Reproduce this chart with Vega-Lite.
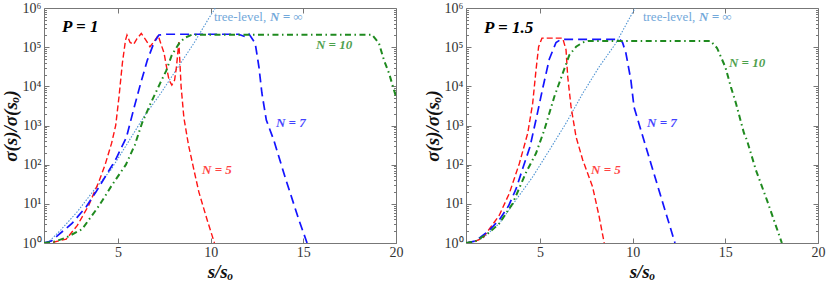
{
  "$schema": "https://vega.github.io/schema/vega-lite/v6.json",
  "background": "white",
  "padding": {"left": 0, "top": 0, "right": 0, "bottom": 0},
  "spacing": 70,
  "bounds": "flush",
  "datasets": {
    "curves": [
      {"panel":"A","series":"tree","x":1,"y":1},{"panel":"A","series":"tree","x":1.3,"y":1.122},{"panel":"A","series":"tree","x":1.9,"y":2.138},{"panel":"A","series":"tree","x":2.8,"y":6.31},{"panel":"A","series":"tree","x":3.7,"y":22.39},{"panel":"A","series":"tree","x":4.6,"y":72.44},{"panel":"A","series":"tree","x":5.5,"y":346.7},{"panel":"A","series":"tree","x":6.4,"y":1698},{"panel":"A","series":"tree","x":7.3,"y":6607},{"panel":"A","series":"tree","x":8.19,"y":28840},{"panel":"A","series":"tree","x":9.09,"y":125893},{"panel":"A","series":"tree","x":9.9,"y":549541},{"panel":"A","series":"tree","x":10.25,"y":1000000},
      {"panel":"A","series":"n5","x":1,"y":1},{"panel":"A","series":"n5","x":1.5,"y":1.047},{"panel":"A","series":"n5","x":2.2,"y":1.259},{"panel":"A","series":"n5","x":2.8,"y":2.818},{"panel":"A","series":"n5","x":3.4,"y":8.913},{"panel":"A","series":"n5","x":3.95,"y":35.48},{"panel":"A","series":"n5","x":4.3,"y":100},{"panel":"A","series":"n5","x":4.65,"y":354.8},{"panel":"A","series":"n5","x":4.87,"y":1000},{"panel":"A","series":"n5","x":5.05,"y":5495},{"panel":"A","series":"n5","x":5.23,"y":38905},{"panel":"A","series":"n5","x":5.4,"y":151356},{"panel":"A","series":"n5","x":5.48,"y":204174},{"panel":"A","series":"n5","x":5.65,"y":131826},{"panel":"A","series":"n5","x":5.84,"y":117490},{"panel":"A","series":"n5","x":6.02,"y":165959},{"panel":"A","series":"n5","x":6.25,"y":223872},{"panel":"A","series":"n5","x":6.5,"y":151356},{"panel":"A","series":"n5","x":6.72,"y":102329},{"panel":"A","series":"n5","x":6.95,"y":141254},{"panel":"A","series":"n5","x":7.16,"y":199526},{"panel":"A","series":"n5","x":7.3,"y":125893},{"panel":"A","series":"n5","x":7.48,"y":70795},{"panel":"A","series":"n5","x":7.65,"y":25119},{"panel":"A","series":"n5","x":7.75,"y":14454},{"panel":"A","series":"n5","x":7.9,"y":10715},{"panel":"A","series":"n5","x":8.05,"y":14454},{"panel":"A","series":"n5","x":8.15,"y":31623},{"panel":"A","series":"n5","x":8.28,"y":134896},{"panel":"A","series":"n5","x":8.4,"y":10000},{"panel":"A","series":"n5","x":8.55,"y":1585},{"panel":"A","series":"n5","x":8.8,"y":316.2},{"panel":"A","series":"n5","x":9.1,"y":70.79},{"panel":"A","series":"n5","x":9.36,"y":19.95},{"panel":"A","series":"n5","x":9.8,"y":3.981},{"panel":"A","series":"n5","x":10.2,"y":1},
      {"panel":"A","series":"n7","x":1,"y":1},{"panel":"A","series":"n7","x":1.4,"y":1.122},{"panel":"A","series":"n7","x":1.81,"y":1.66},{"panel":"A","series":"n7","x":2.51,"y":3.162},{"panel":"A","series":"n7","x":3.27,"y":8.318},{"panel":"A","series":"n7","x":3.8,"y":19.95},{"panel":"A","series":"n7","x":4.51,"y":70.79},{"panel":"A","series":"n7","x":4.89,"y":141.3},{"panel":"A","series":"n7","x":5.45,"y":501.2},{"panel":"A","series":"n7","x":5.86,"y":2818},{"panel":"A","series":"n7","x":6.22,"y":12023},{"panel":"A","series":"n7","x":6.58,"y":46774},{"panel":"A","series":"n7","x":6.94,"y":131826},{"panel":"A","series":"n7","x":7.2,"y":204174},{"panel":"A","series":"n7","x":7.6,"y":213796},{"panel":"A","series":"n7","x":11.5,"y":213796},{"panel":"A","series":"n7","x":11.85,"y":186209},{"panel":"A","series":"n7","x":12.06,"y":218776},{"panel":"A","series":"n7","x":12.4,"y":125893},{"panel":"A","series":"n7","x":12.6,"y":31623},{"panel":"A","series":"n7","x":12.76,"y":6761},{"panel":"A","series":"n7","x":13.0,"y":1380},{"panel":"A","series":"n7","x":13.4,"y":426.6},{"panel":"A","series":"n7","x":14.06,"y":40.74},{"panel":"A","series":"n7","x":14.76,"y":3.89},{"panel":"A","series":"n7","x":15.2,"y":1},
      {"panel":"A","series":"n10","x":1,"y":1},{"panel":"A","series":"n10","x":1.6,"y":1.096},{"panel":"A","series":"n10","x":2.2,"y":1.38},{"panel":"A","series":"n10","x":3.05,"y":2.239},{"panel":"A","series":"n10","x":3.97,"y":8.913},{"panel":"A","series":"n10","x":4.67,"y":30.2},{"panel":"A","series":"n10","x":5.42,"y":100},{"panel":"A","series":"n10","x":5.9,"y":316.2},{"panel":"A","series":"n10","x":6.29,"y":1148},{"panel":"A","series":"n10","x":6.76,"y":3715},{"panel":"A","series":"n10","x":7.29,"y":12589},{"panel":"A","series":"n10","x":7.6,"y":25119},{"panel":"A","series":"n10","x":7.9,"y":63096},{"panel":"A","series":"n10","x":8.3,"y":125893},{"panel":"A","series":"n10","x":8.6,"y":173780},{"panel":"A","series":"n10","x":9.0,"y":208930},{"panel":"A","series":"n10","x":18.7,"y":208930},{"panel":"A","series":"n10","x":19.08,"y":125893},{"panel":"A","series":"n10","x":19.35,"y":46774},{"panel":"A","series":"n10","x":19.62,"y":21878},{"panel":"A","series":"n10","x":20,"y":5370},
      {"panel":"B","series":"tree","x":1,"y":1},{"panel":"B","series":"tree","x":1.4,"y":1.096},{"panel":"B","series":"tree","x":1.9,"y":1.318},{"panel":"B","series":"tree","x":2.8,"y":3.162},{"panel":"B","series":"tree","x":3.7,"y":12.59},{"panel":"B","series":"tree","x":4.6,"y":48.98},{"panel":"B","series":"tree","x":5.5,"y":234.4},{"panel":"B","series":"tree","x":6.4,"y":1148},{"panel":"B","series":"tree","x":7.3,"y":6607},{"panel":"B","series":"tree","x":8.19,"y":31623},{"panel":"B","series":"tree","x":9.09,"y":125893},{"panel":"B","series":"tree","x":10.07,"y":891251},{"panel":"B","series":"tree","x":10.13,"y":1000000},
      {"panel":"B","series":"n5","x":1,"y":1},{"panel":"B","series":"n5","x":1.4,"y":1.072},{"panel":"B","series":"n5","x":1.9,"y":1.318},{"panel":"B","series":"n5","x":2.8,"y":5.129},{"panel":"B","series":"n5","x":3.34,"y":18.62},{"panel":"B","series":"n5","x":3.88,"y":107.2},{"panel":"B","series":"n5","x":4.33,"y":631},{"panel":"B","series":"n5","x":4.6,"y":3715},{"panel":"B","series":"n5","x":4.78,"y":26303},{"panel":"B","series":"n5","x":4.92,"y":102329},{"panel":"B","series":"n5","x":5.1,"y":169824},{"panel":"B","series":"n5","x":6.22,"y":169824},{"panel":"B","series":"n5","x":6.4,"y":85114},{"panel":"B","series":"n5","x":6.49,"y":17783},{"panel":"B","series":"n5","x":6.67,"y":3020},{"panel":"B","series":"n5","x":6.94,"y":512.9},{"panel":"B","series":"n5","x":7.3,"y":131.8},{"panel":"B","series":"n5","x":7.83,"y":27.54},{"panel":"B","series":"n5","x":8.19,"y":4.677},{"panel":"B","series":"n5","x":8.46,"y":1},
      {"panel":"B","series":"n7","x":1,"y":1},{"panel":"B","series":"n7","x":1.5,"y":1.122},{"panel":"B","series":"n7","x":2.2,"y":1.995},{"panel":"B","series":"n7","x":2.8,"y":3.89},{"panel":"B","series":"n7","x":3.3,"y":8.913},{"panel":"B","series":"n7","x":3.7,"y":23.99},{"panel":"B","series":"n7","x":4.06,"y":79.43},{"panel":"B","series":"n7","x":4.45,"y":281.8},{"panel":"B","series":"n7","x":4.78,"y":1413},{"panel":"B","series":"n7","x":5.14,"y":8913},{"panel":"B","series":"n7","x":5.5,"y":50119},{"panel":"B","series":"n7","x":5.86,"y":131826},{"panel":"B","series":"n7","x":6.13,"y":158489},{"panel":"B","series":"n7","x":9.3,"y":158489},{"panel":"B","series":"n7","x":9.45,"y":131826},{"panel":"B","series":"n7","x":9.63,"y":70795},{"panel":"B","series":"n7","x":9.9,"y":14454},{"panel":"B","series":"n7","x":10.07,"y":2951},{"panel":"B","series":"n7","x":10.34,"y":1096},{"panel":"B","series":"n7","x":10.6,"y":426.6},{"panel":"B","series":"n7","x":11.0,"y":100},{"panel":"B","series":"n7","x":11.6,"y":11.48},{"panel":"B","series":"n7","x":12.28,"y":1},
      {"panel":"B","series":"n10","x":1,"y":1},{"panel":"B","series":"n10","x":1.5,"y":1.096},{"panel":"B","series":"n10","x":2.2,"y":1.778},{"panel":"B","series":"n10","x":2.8,"y":3.162},{"panel":"B","series":"n10","x":3.52,"y":10.23},{"panel":"B","series":"n10","x":4.24,"y":63.1},{"panel":"B","series":"n10","x":4.78,"y":195},{"panel":"B","series":"n10","x":5.23,"y":776.2},{"panel":"B","series":"n10","x":5.77,"y":5495},{"panel":"B","series":"n10","x":6.22,"y":21380},{"panel":"B","series":"n10","x":6.58,"y":63096},{"panel":"B","series":"n10","x":6.94,"y":102329},{"panel":"B","series":"n10","x":7.3,"y":131826},{"panel":"B","series":"n10","x":7.6,"y":144544},{"panel":"B","series":"n10","x":14.2,"y":144544},{"panel":"B","series":"n10","x":14.55,"y":95499},{"panel":"B","series":"n10","x":15.0,"y":30903},{"panel":"B","series":"n10","x":15.3,"y":9550},{"panel":"B","series":"n10","x":15.57,"y":3715},{"panel":"B","series":"n10","x":16.0,"y":645.7},{"panel":"B","series":"n10","x":16.16,"y":426.6},{"panel":"B","series":"n10","x":16.65,"y":72.44},{"panel":"B","series":"n10","x":17.24,"y":12.59},{"panel":"B","series":"n10","x":18.05,"y":1}
    ],
    "labels": [
      {"panel":"A","kind":"p","series":"none","text":"P = 1","x":1.97,"y":323594},
      {"panel":"A","kind":"tree","series":"tree","text":"tree-level,","x":10.17,"y":588844},
      {"panel":"A","kind":"n","series":"tree","text":"N = ∞","x":13.2,"y":588844},
      {"panel":"A","kind":"n","series":"n10","text":"N = 10","x":15.68,"y":112202},
      {"panel":"A","kind":"n","series":"n7","text":"N = 7","x":13.52,"y":1148},
      {"panel":"A","kind":"n","series":"n5","text":"N = 5","x":9.53,"y":72.44},
      {"panel":"B","kind":"p","series":"none","text":"P = 1.5","x":1.97,"y":309030},
      {"panel":"B","kind":"tree","series":"tree","text":"tree-level,","x":10.55,"y":588844},
      {"panel":"B","kind":"n","series":"tree","text":"N = ∞","x":13.58,"y":588844},
      {"panel":"B","kind":"n","series":"n10","text":"N = 10","x":15.19,"y":39811},
      {"panel":"B","kind":"n","series":"n7","text":"N = 7","x":10.77,"y":1148},
      {"panel":"B","kind":"n","series":"n5","text":"N = 5","x":7.75,"y":72.44}
    ]
  },
  "hconcat": [
    {
      "width": 352, "height": 235,
      "resolve": {"axis": {"x": "independent", "y": "independent"}},
      "layer": [
        {
          "data": {"name": "curves"},
          "transform": [{"filter": "datum.panel === 'A'"}],
          "mark": {"type": "line", "clip": true},
          "encoding": {
            "x": {"field": "x", "type": "quantitative", "scale": {"domain": [1, 20], "nice": false, "zero": false},
                  "axis": {"orient": "bottom", "values": [5, 10, 15, 20], "title": "s/sₒ", "tickSize": -5, "labelPadding": 7, "labelFlush": false, "titlePadding": 3}},
            "y": {"field": "y", "type": "quantitative", "scale": {"type": "log", "domain": [1, 1000000], "nice": false},
                  "axis": {"orient": "left", "title": "σ(s)/σ(sₒ)", "labelOverlap": false, "labelFlush": false, "labelPadding": 8, "titlePadding": 2,
                           "values": [1,2,3,4,5,6,7,8,9,10,20,30,40,50,60,70,80,90,100,200,300,400,500,600,700,800,900,1000,2000,3000,4000,5000,6000,7000,8000,9000,10000,20000,30000,40000,50000,60000,70000,80000,90000,100000,200000,300000,400000,500000,600000,700000,800000,900000,1000000],
                           "labelExpr": "indexof([1,10,100,1000,10000,100000,1000000], datum.value) >= 0 ? '10' + ['⁰','¹','²','³','⁴','⁵','⁶'][round(log(datum.value)/LN10)] : ''",
                           "tickSize": {"condition": {"test": "indexof([1,10,100,1000,10000,100000,1000000], datum.value) >= 0", "value": -5}, "value": -2.5}}},
            "color": {"field": "series", "type": "nominal", "legend": null, "scale": {"domain": ["tree", "n5", "n7", "n10", "none"], "range": ["#4f93d2", "#ff1414", "#1414ff", "#1f8a1f", "#000000"]}},
            "strokeDash": {"field": "series", "type": "nominal", "legend": null, "scale": {"domain": ["tree", "n5", "n7", "n10"], "range": [[1.5, 1.5], [6, 3], [9, 5], [6, 3.5, 1.5, 3.5]]}},
            "strokeWidth": {"field": "series", "type": "ordinal", "legend": null, "scale": {"domain": ["tree", "n5", "n7", "n10"], "range": [1.1, 2, 2, 1.8]}}
          }
        },
        {
          "data": {"name": "labels"},
          "transform": [{"filter": "datum.panel === 'A' && datum.kind === 'n'"}],
          "mark": {"type": "text", "align": "left", "baseline": "middle", "font": "Liberation Serif", "fontSize": 13, "fontWeight": "bold", "fontStyle": "italic", "opacity": 0.8},
          "encoding": {
            "x": {"field": "x", "type": "quantitative", "axis": null},
            "y": {"field": "y", "type": "quantitative", "axis": null},
            "text": {"field": "text"},
            "color": {"field": "series", "type": "nominal", "legend": null}
          }
        },
        {
          "data": {"name": "labels"},
          "transform": [{"filter": "datum.panel === 'A' && datum.kind === 'tree'"}],
          "mark": {"type": "text", "align": "left", "baseline": "middle", "font": "Liberation Serif", "fontSize": 13, "opacity": 0.8},
          "encoding": {
            "x": {"field": "x", "type": "quantitative", "axis": null},
            "y": {"field": "y", "type": "quantitative", "axis": null},
            "text": {"field": "text"},
            "color": {"field": "series", "type": "nominal", "legend": null}
          }
        },
        {
          "data": {"name": "labels"},
          "transform": [{"filter": "datum.panel === 'A' && datum.kind === 'p'"}],
          "mark": {"type": "text", "align": "left", "baseline": "middle", "font": "Liberation Serif", "fontSize": 17, "fontWeight": "bold", "fontStyle": "italic", "color": "#000"},
          "encoding": {
            "x": {"field": "x", "type": "quantitative", "axis": {"orient": "top", "values": [5, 10, 15], "labels": false, "title": null, "tickSize": -5}},
            "y": {"field": "y", "type": "quantitative",
                  "axis": {"orient": "right", "labels": false, "title": null,
                           "values": [1,2,3,4,5,6,7,8,9,10,20,30,40,50,60,70,80,90,100,200,300,400,500,600,700,800,900,1000,2000,3000,4000,5000,6000,7000,8000,9000,10000,20000,30000,40000,50000,60000,70000,80000,90000,100000,200000,300000,400000,500000,600000,700000,800000,900000,1000000],
                           "tickSize": {"condition": {"test": "indexof([1,10,100,1000,10000,100000,1000000], datum.value) >= 0", "value": -5}, "value": -2.5}}},
            "text": {"field": "text"}
          }
        }
      ]
    },
    {
      "width": 352, "height": 235,
      "resolve": {"axis": {"x": "independent", "y": "independent"}},
      "layer": [
        {
          "data": {"name": "curves"},
          "transform": [{"filter": "datum.panel === 'B'"}],
          "mark": {"type": "line", "clip": true},
          "encoding": {
            "x": {"field": "x", "type": "quantitative", "scale": {"domain": [1, 20], "nice": false, "zero": false},
                  "axis": {"orient": "bottom", "values": [5, 10, 15, 20], "title": "s/sₒ", "tickSize": -5, "labelPadding": 7, "labelFlush": false, "titlePadding": 3}},
            "y": {"field": "y", "type": "quantitative", "scale": {"type": "log", "domain": [1, 1000000], "nice": false},
                  "axis": {"orient": "left", "title": "σ(s)/σ(sₒ)", "labelOverlap": false, "labelFlush": false, "labelPadding": 8, "titlePadding": 2,
                           "values": [1,2,3,4,5,6,7,8,9,10,20,30,40,50,60,70,80,90,100,200,300,400,500,600,700,800,900,1000,2000,3000,4000,5000,6000,7000,8000,9000,10000,20000,30000,40000,50000,60000,70000,80000,90000,100000,200000,300000,400000,500000,600000,700000,800000,900000,1000000],
                           "labelExpr": "indexof([1,10,100,1000,10000,100000,1000000], datum.value) >= 0 ? '10' + ['⁰','¹','²','³','⁴','⁵','⁶'][round(log(datum.value)/LN10)] : ''",
                           "tickSize": {"condition": {"test": "indexof([1,10,100,1000,10000,100000,1000000], datum.value) >= 0", "value": -5}, "value": -2.5}}},
            "color": {"field": "series", "type": "nominal", "legend": null, "scale": {"domain": ["tree", "n5", "n7", "n10", "none"], "range": ["#4f93d2", "#ff1414", "#1414ff", "#1f8a1f", "#000000"]}},
            "strokeDash": {"field": "series", "type": "nominal", "legend": null, "scale": {"domain": ["tree", "n5", "n7", "n10"], "range": [[1.5, 1.5], [6, 3], [9, 5], [6, 3.5, 1.5, 3.5]]}},
            "strokeWidth": {"field": "series", "type": "ordinal", "legend": null, "scale": {"domain": ["tree", "n5", "n7", "n10"], "range": [1.1, 2, 2, 1.8]}}
          }
        },
        {
          "data": {"name": "labels"},
          "transform": [{"filter": "datum.panel === 'B' && datum.kind === 'n'"}],
          "mark": {"type": "text", "align": "left", "baseline": "middle", "font": "Liberation Serif", "fontSize": 13, "fontWeight": "bold", "fontStyle": "italic", "opacity": 0.8},
          "encoding": {
            "x": {"field": "x", "type": "quantitative", "axis": null},
            "y": {"field": "y", "type": "quantitative", "axis": null},
            "text": {"field": "text"},
            "color": {"field": "series", "type": "nominal", "legend": null}
          }
        },
        {
          "data": {"name": "labels"},
          "transform": [{"filter": "datum.panel === 'B' && datum.kind === 'tree'"}],
          "mark": {"type": "text", "align": "left", "baseline": "middle", "font": "Liberation Serif", "fontSize": 13, "opacity": 0.8},
          "encoding": {
            "x": {"field": "x", "type": "quantitative", "axis": null},
            "y": {"field": "y", "type": "quantitative", "axis": null},
            "text": {"field": "text"},
            "color": {"field": "series", "type": "nominal", "legend": null}
          }
        },
        {
          "data": {"name": "labels"},
          "transform": [{"filter": "datum.panel === 'B' && datum.kind === 'p'"}],
          "mark": {"type": "text", "align": "left", "baseline": "middle", "font": "Liberation Serif", "fontSize": 17, "fontWeight": "bold", "fontStyle": "italic", "color": "#000"},
          "encoding": {
            "x": {"field": "x", "type": "quantitative", "axis": {"orient": "top", "values": [5, 10, 15], "labels": false, "title": null, "tickSize": -5}},
            "y": {"field": "y", "type": "quantitative",
                  "axis": {"orient": "right", "labels": false, "title": null,
                           "values": [1,2,3,4,5,6,7,8,9,10,20,30,40,50,60,70,80,90,100,200,300,400,500,600,700,800,900,1000,2000,3000,4000,5000,6000,7000,8000,9000,10000,20000,30000,40000,50000,60000,70000,80000,90000,100000,200000,300000,400000,500000,600000,700000,800000,900000,1000000],
                           "tickSize": {"condition": {"test": "indexof([1,10,100,1000,10000,100000,1000000], datum.value) >= 0", "value": -5}, "value": -2.5}}},
            "text": {"field": "text"}
          }
        }
      ]
    }
  ],
  "config": {
    "view": {"stroke": "#777", "strokeWidth": 1},
    "axis": {"grid": false, "domain": false, "tickColor": "#777", "labelFont": "Liberation Serif", "labelFontSize": 14, "labelColor": "#333",
             "titleFont": "Liberation Serif", "titleFontSize": 19, "titleFontWeight": "bold", "titleFontStyle": "italic", "titleColor": "#111"}
  }
}
